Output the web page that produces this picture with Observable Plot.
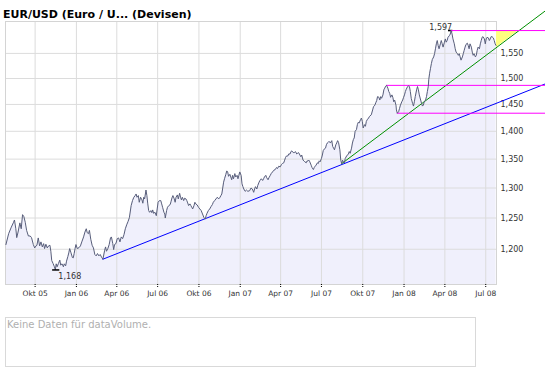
<!DOCTYPE html>
<html><head><meta charset="utf-8">
<script src="https://cdn.jsdelivr.net/npm/d3@7"></script>
<script src="https://cdn.jsdelivr.net/npm/@observablehq/plot@0.6"></script>
<style>
body{margin:0;background:#fff;font-family:"DejaVu Sans",Verdana,sans-serif;}
#wrap{position:relative;width:545px;height:370px;overflow:hidden;background:#fff;}
#chart{position:absolute;left:0;top:0;}
#title{position:absolute;left:3px;top:8px;font-size:11px;font-weight:bold;color:#000;white-space:nowrap;line-height:normal;}
#vol{position:absolute;left:5px;top:317px;width:469px;height:48px;border:1px solid #d9d9d9;}
#vol span{position:absolute;left:1px;top:1px;font-size:10px;color:#b0b0b0;white-space:nowrap;line-height:normal;}
</style></head>
<body>
<div id="wrap"><div id="chart"></div><div id="title"></div><div id="vol"><span id="voltext"></span></div></div>
<script>
const titleText = "EUR/USD (Euro / U... (Devisen)";
const volumeText = "Keine Daten für dataVolume.";

const dates = [
"2005-07-28","2005-08-03","2005-08-09","2005-08-14","2005-08-16","2005-08-19","2005-08-21","2005-08-24","2005-08-28","2005-08-31",
"2005-09-03","2005-09-06","2005-09-09","2005-09-12","2005-09-16","2005-09-20","2005-09-23","2005-09-27","2005-09-30","2005-10-03",
"2005-10-05","2005-10-08","2005-10-11","2005-10-14","2005-10-17","2005-10-20","2005-10-22","2005-10-25","2005-10-28","2005-10-31",
"2005-11-03","2005-11-05","2005-11-07","2005-11-10","2005-11-13","2005-11-15","2005-11-17","2005-11-19","2005-11-22","2005-11-25",
"2005-11-27","2005-11-30","2005-12-03","2005-12-05","2005-12-08","2005-12-10","2005-12-13","2005-12-15","2005-12-17","2005-12-20",
"2005-12-23","2005-12-25","2005-12-27","2005-12-29","2005-12-31","2006-01-03","2006-01-07","2006-01-10","2006-01-13","2006-01-17",
"2006-01-20","2006-01-23","2006-01-25","2006-01-28","2006-01-30","2006-02-02","2006-02-05","2006-02-08","2006-02-11","2006-02-14",
"2006-02-17","2006-02-20","2006-02-23","2006-02-26","2006-03-01","2006-03-05","2006-03-07","2006-03-09","2006-03-12","2006-03-15",
"2006-03-18","2006-03-20","2006-03-23","2006-03-25","2006-03-27","2006-03-30","2006-04-02","2006-04-05","2006-04-08","2006-04-11",
"2006-04-14","2006-04-17","2006-04-20","2006-04-23","2006-04-26","2006-04-29",
"2006-05-03","2006-05-06","2006-05-09","2006-05-12","2006-05-14","2006-05-16","2006-05-19","2006-05-21","2006-05-24","2006-05-27",
"2006-05-29","2006-05-31","2006-06-02","2006-06-05","2006-06-07","2006-06-09","2006-06-11","2006-06-13","2006-06-16","2006-06-18",
"2006-06-20","2006-06-22","2006-06-25","2006-06-28","2006-06-30","2006-07-02","2006-07-05","2006-07-08","2006-07-10","2006-07-12",
"2006-07-15","2006-07-17","2006-07-18","2006-07-21","2006-07-23","2006-07-26","2006-07-29","2006-07-31","2006-08-02","2006-08-04",
"2006-08-07","2006-08-09","2006-08-11","2006-08-14","2006-08-16","2006-08-19","2006-08-21","2006-08-23","2006-08-25","2006-08-28",
"2006-08-30","2006-09-02","2006-09-04","2006-09-06","2006-09-08","2006-09-11","2006-09-13","2006-09-15","2006-09-17","2006-09-20",
"2006-09-22","2006-09-24","2006-09-27","2006-09-30","2006-10-03","2006-10-06","2006-10-09","2006-10-12","2006-10-15","2006-10-17",
"2006-10-19","2006-10-22","2006-10-25","2006-10-28","2006-10-31","2006-11-02","2006-11-05","2006-11-08","2006-11-11","2006-11-14",
"2006-11-17","2006-11-19","2006-11-21","2006-11-23","2006-11-25","2006-11-27","2006-11-30","2006-12-02","2006-12-04","2006-12-06",
"2006-12-09","2006-12-11","2006-12-13","2006-12-15","2006-12-17","2006-12-20","2006-12-22","2006-12-25","2006-12-27","2006-12-29",
"2006-12-31","2007-01-03","2007-01-05","2007-01-07","2007-01-09","2007-01-12","2007-01-15","2007-01-18",
"2007-01-22","2007-01-25","2007-01-28","2007-01-31","2007-02-02","2007-02-04","2007-02-07","2007-02-09","2007-02-12","2007-02-14",
"2007-02-17","2007-02-20","2007-02-22","2007-02-24","2007-02-27","2007-03-01","2007-03-04","2007-03-06","2007-03-09","2007-03-11",
"2007-03-14","2007-03-17","2007-03-20","2007-03-23","2007-03-25","2007-03-28","2007-03-31","2007-04-03","2007-04-05","2007-04-08",
"2007-04-10","2007-04-12","2007-04-14","2007-04-17","2007-04-19","2007-04-22","2007-04-24","2007-04-26","2007-04-29","2007-05-02",
"2007-05-04","2007-05-07","2007-05-09","2007-05-11","2007-05-14","2007-05-16","2007-05-18","2007-05-21","2007-05-23","2007-05-25",
"2007-05-28","2007-05-30","2007-06-01","2007-06-03","2007-06-05","2007-06-08","2007-06-10","2007-06-13","2007-06-15","2007-06-17",
"2007-06-19","2007-06-22","2007-06-24","2007-06-26","2007-06-28","2007-07-01","2007-07-03","2007-07-05","2007-07-07","2007-07-10",
"2007-07-12","2007-07-14","2007-07-16","2007-07-18","2007-07-21","2007-07-24","2007-07-26","2007-07-28","2007-07-30","2007-08-02",
"2007-08-04","2007-08-06","2007-08-08","2007-08-11","2007-08-13","2007-08-15","2007-08-17","2007-08-19","2007-08-21","2007-08-23",
"2007-08-26","2007-08-28","2007-08-30","2007-09-01","2007-09-03","2007-09-06","2007-09-08","2007-09-10","2007-09-12","2007-09-14",
"2007-09-17","2007-09-19","2007-09-21","2007-09-23","2007-09-26","2007-09-28","2007-09-30","2007-10-02","2007-10-05","2007-10-07",
"2007-10-09","2007-10-11","2007-10-14","2007-10-16",
"2007-10-20","2007-10-23","2007-10-25","2007-10-28","2007-10-30","2007-11-01","2007-11-03","2007-11-06","2007-11-08","2007-11-10",
"2007-11-12","2007-11-15","2007-11-17","2007-11-19","2007-11-21","2007-11-23","2007-11-26","2007-11-28","2007-11-30","2007-12-02",
"2007-12-05","2007-12-07","2007-12-09","2007-12-11","2007-12-14","2007-12-15","2007-12-17","2007-12-20","2007-12-22","2007-12-24",
"2007-12-27","2007-12-29","2007-12-31","2008-01-02","2008-01-04","2008-01-06","2008-01-09","2008-01-11","2008-01-13","2008-01-15",
"2008-01-17","2008-01-20","2008-01-22","2008-01-24","2008-01-26","2008-01-29","2008-01-31","2008-02-02","2008-02-04","2008-02-07",
"2008-02-09","2008-02-11","2008-02-13","2008-02-15","2008-02-18","2008-02-20","2008-02-22","2008-02-24","2008-02-25","2008-02-27",
"2008-02-29","2008-03-02","2008-03-04","2008-03-07","2008-03-09","2008-03-11","2008-03-13","2008-03-15","2008-03-17","2008-03-19",
"2008-03-22","2008-03-24","2008-03-26","2008-03-28","2008-03-31","2008-04-02","2008-04-04","2008-04-06","2008-04-08","2008-04-11",
"2008-04-13","2008-04-15","2008-04-17","2008-04-19","2008-04-22","2008-04-24","2008-04-26","2008-04-29","2008-05-01","2008-05-03",
"2008-05-05","2008-05-07","2008-05-10","2008-05-12","2008-05-14","2008-05-16","2008-05-18","2008-05-21","2008-05-23","2008-05-25",
"2008-05-27","2008-05-30","2008-06-01","2008-06-03","2008-06-05","2008-06-08","2008-06-10","2008-06-12","2008-06-14","2008-06-17",
"2008-06-19","2008-06-21","2008-06-23","2008-06-25","2008-06-28","2008-06-30","2008-07-02","2008-07-04","2008-07-07","2008-07-09",
"2008-07-11","2008-07-13","2008-07-15","2008-07-18","2008-07-20","2008-07-22","2008-07-24"
];
const rates = [
1.2074,1.2247,1.2352,1.2431,1.2468,1.2326,1.2184,1.2273,1.2421,1.2326,
1.2555,1.2522,1.2431,1.2300,1.2210,1.2210,1.2184,1.2074,1.2021,1.2053,
1.2063,1.2179,1.2053,1.2116,1.2037,1.2089,1.2011,1.2079,1.2021,1.2053,
1.2063,1.1969,1.1825,1.1779,1.1728,1.1680,1.1774,1.1728,1.1779,1.1831,
1.1754,1.1774,1.1728,1.1774,1.1743,1.1815,1.1887,1.1943,1.2011,1.1943,
1.1872,1.1866,1.1933,1.2011,1.2074,1.2011,1.2026,1.2053,1.2116,1.2195,
1.2273,1.2326,1.2263,1.2247,1.2300,1.2158,1.2063,1.2021,1.1918,1.1897,
1.1933,1.1897,1.1918,1.1877,1.1845,1.1985,1.2037,1.1969,1.2011,1.2074,
1.2179,1.2195,1.2089,1.1995,1.2074,1.2089,1.2168,1.2179,1.2116,1.2195,
1.2168,1.2231,1.2326,1.2389,1.2442,1.2505,
1.2705,1.2788,1.2844,1.2872,1.2899,1.2844,1.2872,1.2760,1.2844,1.2800,
1.2744,1.2844,1.2816,1.2966,1.2872,1.2733,1.2622,1.2594,1.2622,1.2588,
1.2633,1.2577,1.2594,1.2538,1.2649,1.2760,1.2788,1.2788,1.2733,1.2677,
1.2594,1.2566,1.2500,1.2622,1.2677,1.2705,1.2722,1.2777,1.2833,1.2872,
1.2816,1.2760,1.2844,1.2883,1.2816,1.2910,1.2844,1.2800,1.2844,1.2788,
1.2827,1.2816,1.2788,1.2749,1.2705,1.2733,1.2705,1.2677,1.2649,1.2705,
1.2760,1.2733,1.2716,1.2677,1.2649,1.2622,1.2566,1.2510,1.2482,1.2538,
1.2577,1.2622,1.2649,1.2688,1.2722,1.2760,1.2788,1.2816,1.2844,1.2816,
1.2844,1.2872,1.2899,1.3000,1.3100,1.3158,1.3235,1.3294,1.3276,1.3200,
1.3235,1.3188,1.3141,1.3217,1.3158,1.3247,1.3188,1.3217,1.3158,1.3217,
1.3276,1.3217,1.3070,1.3023,1.2983,1.2944,1.2966,1.2944,
1.2955,1.3000,1.2983,1.2927,1.2983,1.3023,1.2983,1.3041,1.3100,1.3129,
1.3158,1.3129,1.3158,1.3188,1.3217,1.3176,1.3141,1.3176,1.3217,1.3247,
1.3276,1.3306,1.3317,1.3353,1.3335,1.3376,1.3364,1.3406,1.3423,1.3435,
1.3482,1.3530,1.3555,1.3555,1.3591,1.3591,1.3634,1.3646,1.3616,1.3616,
1.3634,1.3591,1.3604,1.3616,1.3573,1.3543,1.3573,1.3482,1.3470,1.3453,
1.3435,1.3470,1.3465,1.3482,1.3453,1.3394,1.3353,1.3317,1.3353,1.3376,
1.3394,1.3435,1.3423,1.3470,1.3453,1.3512,1.3573,1.3652,1.3677,1.3695,
1.3756,1.3787,1.3799,1.3817,1.3787,1.3830,1.3726,1.3695,1.3665,1.3756,
1.3787,1.3830,1.3799,1.3665,1.3482,1.3420,1.3482,1.3453,1.3435,1.3512,
1.3555,1.3573,1.3591,1.3634,1.3604,1.3695,1.3787,1.3848,1.3879,1.4000,
1.4031,1.4122,1.4165,1.4153,1.4213,1.4244,1.4183,1.4061,1.4122,1.4092,
1.4183,1.4213,1.4244,1.4274,
1.4305,1.4396,1.4457,1.4487,1.4532,1.4571,1.4649,1.4636,1.4584,1.4649,
1.4617,1.4682,1.4779,1.4812,1.4850,1.4866,1.4812,1.4747,1.4714,1.4636,
1.4682,1.4636,1.4551,1.4584,1.4487,1.4396,1.4335,1.4365,1.4426,1.4487,
1.4551,1.4584,1.4636,1.4682,1.4747,1.4792,1.4844,1.4855,1.4844,1.4747,
1.4617,1.4519,1.4469,1.4551,1.4649,1.4779,1.4844,1.4779,1.4682,1.4584,
1.4519,1.4469,1.4487,1.4551,1.4584,1.4649,1.4747,1.4844,1.4975,1.5104,
1.5202,1.5299,1.5377,1.5429,1.5494,1.5594,1.5695,1.5763,1.5662,1.5594,
1.5695,1.5763,1.5695,1.5628,1.5729,1.5796,1.5729,1.5763,1.5830,1.5864,
1.5897,1.5970,1.5897,1.5796,1.5695,1.5594,1.5527,1.5494,1.5461,1.5494,
1.5429,1.5364,1.5429,1.5494,1.5561,1.5628,1.5682,1.5709,1.5662,1.5594,
1.5695,1.5628,1.5527,1.5461,1.5494,1.5429,1.5461,1.5561,1.5628,1.5594,
1.5695,1.5763,1.5830,1.5843,1.5796,1.5695,1.5796,1.5830,1.5817,1.5763,
1.5796,1.5843,1.5843,1.5817,1.5763,1.5695,1.5662
];

const xDomain = ["2005-07-27", "2008-07-25"];
const yDomain = [1.146, 1.616];
const xTickDates = ["2005-10-01","2006-01-01","2006-04-01","2006-07-01","2006-10-01","2007-01-01","2007-04-01","2007-07-01","2007-10-01","2008-01-01","2008-04-01","2008-07-01"];
const xTickLabels = ["Okt 05","Jan 06","Apr 06","Jul 06","Okt 06","Jan 07","Apr 07","Jul 07","Okt 07","Jan 08","Apr 08","Jul 08"];
const yTicks = [1.20, 1.25, 1.30, 1.35, 1.40, 1.45, 1.50, 1.55];
const yTickLabels = ["1,200","1,250","1,300","1,350","1,400","1,450","1,500","1,550"];

// long-term support line (blue) and short-term trend line (green)
const supportDates = ["2006-03-01", "2008-11-12"];
const supportValues = [1.1845, 1.4899];
const trendDates = ["2007-08-15", "2008-11-12"];
const trendValues = [1.342, 1.6395];

// horizontal levels (magenta)
const levelValues = [1.597, 1.4866, 1.4335];
const levelStarts = ["2008-04-15", "2007-11-23", "2007-12-17"];
const levelEnd = "2008-11-12";

// extremes
const maxDate = "2008-04-15", maxValue = 1.597, maxLabel = "1,597";
const minDate = "2005-11-15", minValue = 1.168, minLabel = "1,168";

document.getElementById("title").textContent = titleText;
document.getElementById("voltext").textContent = volumeText;

const D = s => new Date(s);
const day = 864e5;
const shift = (s, n) => new Date(D(s).getTime() + n * day);
const rows = dates.map((d, i) => ({date: D(d), rate: rates[i]}));
const support = supportDates.map((d, i) => ({date: D(d), v: supportValues[i]}));
const trend = trendDates.map((d, i) => ({date: D(d), v: trendValues[i]}));
const levels = levelValues.map((v, i) => ({v, start: D(levelStarts[i]), end: D(levelEnd)}));

const t0 = +D(trendDates[0]), t1 = +D(trendDates[1]);
const l0 = Math.log(trendValues[0]), l1 = Math.log(trendValues[1]);
const trendAt = t => Math.exp(l0 + (t - t0) / (t1 - t0) * (l1 - l0));
const tCross = t0 + (Math.log(maxValue) - l0) / (l1 - l0) * (t1 - t0);
const xEnd = D(xDomain[1]);
const triangle = [
  {date: xEnd, lo: trendAt(+xEnd), hi: maxValue},
  {date: new Date(tCross), lo: maxValue, hi: maxValue}
];
const bottomVal = yDomain[0];
rows.forEach(r => r.base = bottomVal);

const xIdx = d => xTickDates.findIndex(s => +D(s) === +d);
const yIdx = d => yTicks.findIndex(v => Math.abs(v - d) < 1e-9);

const maxBar = [{v: maxValue, a: shift(maxDate, -6), b: shift(maxDate, 4)}];
const minBar = [{v: minValue, a: shift(minDate, -6), b: shift(minDate, 10)}];

const chart = Plot.plot({
  width: 545,
  height: 300,
  marginTop: 21,
  marginBottom: 16,
  marginLeft: 5,
  marginRight: 49,
  style: {fontFamily: "DejaVu Sans, Verdana, sans-serif", background: "transparent", overflow: "visible"},
  x: {type: "utc", domain: xDomain.map(D)},
  y: {type: "log", domain: yDomain},
  marks: [
    Plot.areaY(rows, {x: "date", y1: "base", y2: "rate", fill: "#f0f0fc"}),
    Plot.gridX(xTickDates.map(D), {stroke: "#dcdcdc", strokeOpacity: 1}),
    Plot.gridY(yTicks, {stroke: "#dcdcdc", strokeOpacity: 1}),
    Plot.frame({stroke: "#d4d4d4"}),
    Plot.axisX(xTickDates.map(D), {anchor: "bottom", tickSize: 4, tickPadding: 2, stroke: "#000", strokeDasharray: "1,1", fill: "#333", fontSize: 7.5, tickFormat: d => xTickLabels[xIdx(d)], label: null}),
    Plot.axisY(yTicks, {anchor: "right", tickSize: 0, tickPadding: 4, fill: "#333", fontSize: 8, tickFormat: d => yTickLabels[yIdx(d)], label: null}),
    Plot.areaY(triangle, {x: "date", y1: "lo", y2: "hi", fill: "#ffff80"}),
    Plot.line(support, {x: "date", y: "v", stroke: "#0000ff", strokeWidth: 1}),
    Plot.line(trend, {x: "date", y: "v", stroke: "#009000", strokeWidth: 1}),
    Plot.ruleY(maxBar, {y: "v", x1: "a", x2: "b", stroke: "#000", strokeWidth: 1.5}),
    Plot.ruleY(levels, {y: "v", x1: "start", x2: "end", stroke: "#ff00ff", strokeWidth: 1}),
    Plot.line(rows, {x: "date", y: "rate", stroke: "#585e7a", strokeWidth: 1}),
    Plot.ruleY(minBar, {y: "v", x1: "a", x2: "b", stroke: "#000", strokeWidth: 1.5}),
    Plot.text([{d: D(maxDate), v: maxValue}], {x: "d", y: "v", text: () => maxLabel, textAnchor: "end", lineAnchor: "bottom", dx: 1, dy: -1, fontSize: 8, fill: "#333"}),
    Plot.text([{d: D(minDate), v: minValue}], {x: "d", y: "v", text: () => minLabel, textAnchor: "start", lineAnchor: "bottom", dx: 3, dy: 9.5, fontSize: 8, fill: "#333"})
  ]
});
document.getElementById("chart").appendChild(chart);
</script>
</body></html>
